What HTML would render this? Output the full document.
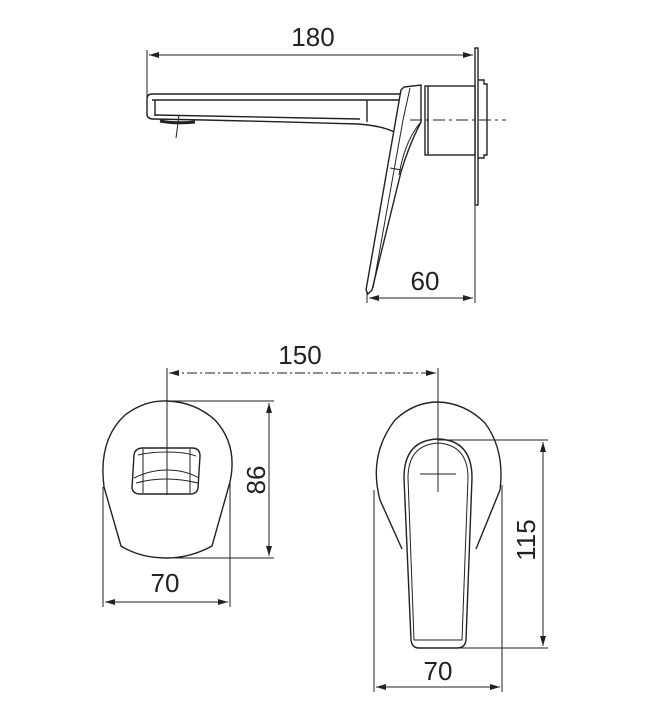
<!DOCTYPE html>
<html><head><meta charset="utf-8"><style>
html,body{margin:0;padding:0;background:#fff;}
svg{display:block;}
text{font-family:"Liberation Sans",sans-serif;fill:#222;}
</style></head><body>
<svg width="657" height="718" viewBox="0 0 657 718" xmlns="http://www.w3.org/2000/svg">
<defs>
<marker id="a" markerWidth="10" markerHeight="6" refX="10" refY="3" orient="auto-start-reverse" markerUnits="userSpaceOnUse">
<path d="M0,0 L10,3 L0,6 z" fill="#222"/></marker>
</defs>
<g stroke="#222" fill="none" stroke-width="1.4">
<line x1="147" y1="50" x2="147" y2="98" stroke-width="1"/>
<line x1="149" y1="55" x2="473" y2="55" stroke-width="1" marker-start="url(#a)" marker-end="url(#a)"/>
<rect x="475" y="48" width="3" height="157" fill="#fff"/>
<path d="M478,80 H484 V84 H487 V155 H484 V158 H478"/>
<rect x="425" y="86" width="50" height="69" fill="#fff"/>
<line x1="428" y1="86" x2="428" y2="155"/>
<path d="M400,94 H152 Q147,94 147,99 V114 Q147,119 153,119 Q260,121 358,124 Q385,126 398,134"/>
<line x1="152" y1="100" x2="400" y2="100"/>
<line x1="155" y1="115" x2="360" y2="119"/>
<line x1="155" y1="100" x2="155" y2="116"/>
<line x1="367" y1="100" x2="367" y2="122"/>
<path d="M160,121 Q175,124 195,122" stroke-width="3"/>
<line x1="179" y1="115" x2="176" y2="138" stroke-width="1"/>
<path d="M404,87 L421,85 V122 Q409,145 401,172 L372,290 L368,294 L366,290 L401,90 Z" fill="#fff"/>
<path d="M410,88 L403,120 L373,288" stroke-width="1"/>
<path d="M421,122 Q405,140 399,175" stroke-width="1"/>
<line x1="390" y1="168" x2="402" y2="170" stroke-width="1"/>
<line x1="410" y1="120" x2="506" y2="120" stroke-width="1" stroke-dasharray="12,4,3,4"/>
<line x1="475" y1="205" x2="475" y2="303" stroke-width="1"/>
<line x1="367" y1="292" x2="367" y2="303" stroke-width="1"/>
<line x1="369" y1="298" x2="473" y2="298" stroke-width="1" marker-start="url(#a)" marker-end="url(#a)"/>

<path d="M121,546 L104,487 Q98,440 125,415 Q145,400 167,401 Q195,402 215,420 Q238,445 230,482 L212,546 Q190,558 167,558 Q140,558 121,546 Z"/>
<path d="M134,455 Q135,448 143,448 H192 Q200,448 200,456 L198,488 Q197,494 190,494 H140 Q133,494 132,488 Z"/>
<path d="M138,455 Q150,452 167,452 Q185,452 196,456 M134,478 Q150,470 167,470 Q185,470 199,478 M136,483 Q165,475 198,483" stroke-width="1"/>
<line x1="143" y1="449" x2="143" y2="493" stroke-width="1"/>
<line x1="190" y1="449" x2="190" y2="493" stroke-width="1"/>
<line x1="167" y1="368" x2="167" y2="495" stroke-width="1"/>
<line x1="167" y1="401" x2="274" y2="401" stroke-width="1"/>
<line x1="175" y1="558" x2="274" y2="558" stroke-width="1"/>
<line x1="269" y1="403" x2="269" y2="556" stroke-width="1" marker-start="url(#a)" marker-end="url(#a)"/>
<line x1="103" y1="487" x2="103" y2="607" stroke-width="1"/>
<line x1="230" y1="482" x2="230" y2="607" stroke-width="1"/>
<line x1="105" y1="602" x2="228" y2="602" stroke-width="1" marker-start="url(#a)" marker-end="url(#a)"/>
<line x1="169" y1="373" x2="436" y2="373" stroke-width="1" stroke-dasharray="10,3,2,3" marker-start="url(#a)" marker-end="url(#a)"/>

<path d="M402,549 L380,500 Q368,455 395,420 Q414,402 438,402 Q465,403 485,423 Q505,450 500,490 L476,549"/>
<path d="M404,478 Q404,440 438,439 Q472,440 472,478 L466,640 Q465,648 457,648 H419 Q412,648 411,640 Z" fill="#fff"/>
<path d="M408,478 Q408,445 438,443 Q468,445 468,478 L462,640 H414 Z" stroke-width="1"/>
<line x1="438" y1="368" x2="438" y2="492" stroke-width="1"/>
<line x1="420" y1="474" x2="456" y2="474" stroke-width="1"/>
<line x1="438" y1="440" x2="548" y2="440" stroke-width="1"/>
<line x1="460" y1="648" x2="548" y2="648" stroke-width="1"/>
<line x1="543" y1="442" x2="543" y2="646" stroke-width="1" marker-start="url(#a)" marker-end="url(#a)"/>
<line x1="374" y1="490" x2="374" y2="692" stroke-width="1"/>
<line x1="502" y1="485" x2="502" y2="692" stroke-width="1"/>
<line x1="376" y1="687" x2="500" y2="687" stroke-width="1" marker-start="url(#a)" marker-end="url(#a)"/>
</g>
<g font-size="26" text-anchor="middle">
<text x="313" y="46">180</text>
<text x="425" y="290">60</text>
<text x="300" y="364">150</text>
<text x="165" y="592">70</text>
<text x="438" y="680">70</text>
<text transform="translate(265,480) rotate(-90)">86</text>
<text transform="translate(535,540) rotate(-90)">115</text>
</g>
</svg>
</body></html>
